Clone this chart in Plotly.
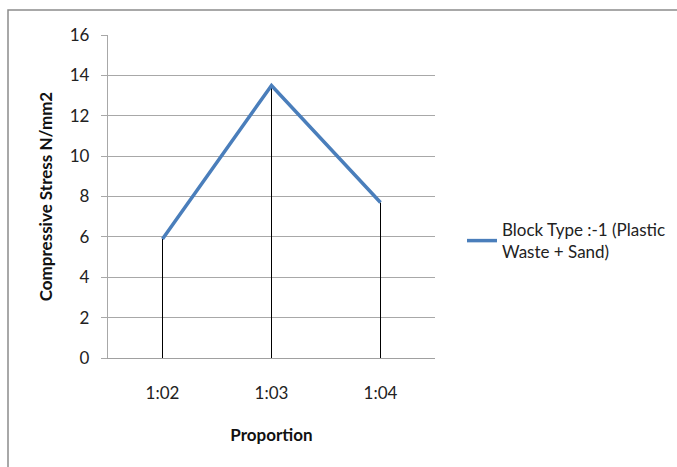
import plotly.graph_objects as go

categories = ["1:02", "1:03", "1:04"]
stress = [5.9, 13.5, 7.7]
series_name = "Block Type :-1 (Plastic<br>Waste + Sand)"
y_ticks = [0, 2, 4, 6, 8, 10, 12, 14, 16]

FONT = "Lato"

# drop lines built from data
drop_x, drop_y = [], []
for c, v in zip(categories, stress):
    drop_x += [c, c, None]
    drop_y += [0, v, None]

fig = go.Figure()
fig.add_trace(go.Scatter(x=drop_x, y=drop_y, mode="lines",
                         line=dict(color="black", width=1),
                         showlegend=False, hoverinfo="skip"))
fig.add_trace(go.Scatter(x=categories, y=stress, mode="lines",
                         name=series_name,
                         line=dict(color="#4a7ebb", width=3.5)))

L, R, T, B = 108, 242, 35, 109
W, H = 677, 467
pw, ph = W - L - R, H - T - B

def px(x):
    return (x - L) / pw

def py(y):
    return (H - B - y) / ph

fig.add_shape(type="rect", xref="paper", yref="paper",
              x0=px(8), x1=px(690), y0=py(480), y1=py(10),
              line=dict(color="#8c8c8c", width=1.5), fillcolor="rgba(0,0,0,0)",
              layer="below")

fig.update_layout(
    width=W, height=H,
    margin=dict(l=L, r=R, t=T, b=B, autoexpand=False),
    paper_bgcolor="white", plot_bgcolor="white",
    font=dict(family=FONT, size=17, color="#222222"),
    showlegend=True,
    legend=dict(x=px(462), y=py(212), xanchor="left", yanchor="top",
                font=dict(family=FONT, size=17, color="#222222"),
                bgcolor="rgba(0,0,0,0)", itemwidth=30, tracegroupgap=0),
    xaxis=dict(
        type="category", categoryorder="array", categoryarray=categories,
        range=[-0.5, 2.5], automargin=False,
        showgrid=False, showline=True, linecolor="#a0a0a0", linewidth=1.3,
        ticks="", ticklabelstandoff=19,
        tickfont=dict(family=FONT, size=17, color="#222222"),
        title=dict(text="<b>Proportion</b>", standoff=27,
                   font=dict(family=FONT, size=17, color="#111111")),
        zeroline=False, fixedrange=True,
    ),
    yaxis=dict(
        range=[0, 16], tickvals=y_ticks, automargin=False,
        showgrid=True, gridcolor="#a8a8a8", gridwidth=1,
        showline=True, linecolor="#a8a8a8", linewidth=1.3,
        ticks="outside", ticklen=6, tickcolor="#a8a8a8", tickwidth=1,
        ticklabelstandoff=8,
        tickfont=dict(family=FONT, size=17, color="#222222"),
        title=dict(text="<b>Compressive Stress N/mm2</b>", standoff=12,
                   font=dict(family=FONT, size=17, color="#111111")),
        zeroline=False, fixedrange=True,
    ),
)

fig.write_html("out.html", config={"displayModeBar": False},
               post_script="document.body.style.margin='0';")
